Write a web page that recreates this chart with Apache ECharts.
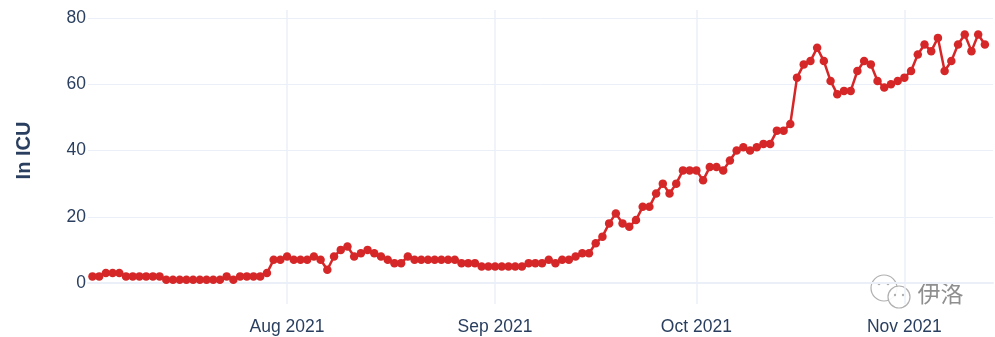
<!DOCTYPE html>
<html>
<head>
<meta charset="utf-8">
<script src="https://cdn.jsdelivr.net/npm/echarts@6/dist/echarts.min.js"></script>
<style>
html,body{margin:0;padding:0;background:#fff;}
#chart{width:995px;height:337px;}
</style>
</head>
<body>
<div id="chart"></div>
<script>
// ---- data ----
var startDate = [2021, 7, 3]; // first day of the daily series (year, month, day)
var icuValues = [
  // Jul 3 - Jul 31
  2,2,3,3,3,2,2,2,2,2,2,1,1,1,1,1,1,1,1,1,2,1,2,2,2,2,3,7,7,
  // Aug
  8,7,7,7,8,7,4,8,10,11,8,9,10,9,8,7,6,6,8,7,7,7,7,7,7,7,6,6,6,5,5,
  // Sep
  5,5,5,5,5,6,6,6,7,6,7,7,8,9,9,12,14,18,21,18,17,19,23,23,27,30,27,30,34,34,
  // Oct
  34,31,35,35,34,37,40,41,40,41,42,42,46,46,48,62,66,67,71,67,61,57,58,58,64,67,66,61,59,60,61,
  // Nov
  62,64,69,72,70,74,64,67,72,75,70,75,72
];
var yTicks = [0, 20, 40, 60, 80];
var monthNames = ['Jan','Feb','Mar','Apr','May','Jun','Jul','Aug','Sep','Oct','Nov','Dec'];
var yAxisTitle = 'In ICU';
var watermarkText = '伊洛';

// ---- build ----
var seriesData = icuValues.map(function (v, i) {
  var d = new Date(startDate[0], startDate[1] - 1, startDate[2] + i);
  return [d.getTime(), v];
});
var xMin = new Date(2021, 6, 2, 8, 0).getTime();
var xMax = new Date(2021, 10, 14, 5, 0).getTime();

var txt = '#2a3f5f';
var gridCol = '#EBF0F8';
var font = "'Liberation Sans', Arial, sans-serif";

var chart = echarts.init(document.getElementById('chart'), null, {renderer: 'canvas'});
chart.setOption({
  backgroundColor: '#fff',
  animation: false,
  grid: [
    {left: 88, right: 2, top: 10, bottom: 33},
    {left: 88, right: 2, top: 18, bottom: 54}
  ],
  xAxis: [
    {
      type: 'time', gridIndex: 0, min: xMin, max: xMax,
      minInterval: 28 * 86400000, maxInterval: 31 * 86400000,
      axisLine: {show: false}, axisTick: {show: false},
      splitLine: {show: true, showMinLine: false, showMaxLine: false, lineStyle: {color: gridCol, width: 1.5}},
      axisLabel: {
        color: txt, fontFamily: font, fontSize: 17.5, margin: 14,
        hideOverlap: false, showMinLabel: false, showMaxLabel: false,
        formatter: function (val) {
          var d = new Date(val);
          if (d.getDate() === 1) return monthNames[d.getMonth()] + ' ' + d.getFullYear();
          return '';
        }
      }
    },
    {
      type: 'time', gridIndex: 1, min: xMin, max: xMax,
      axisLine: {show: true, onZero: false, lineStyle: {color: gridCol, width: 2}},
      axisTick: {show: false}, axisLabel: {show: false}, splitLine: {show: false}
    }
  ],
  yAxis: [
    {
      type: 'value', gridIndex: 0, min: -4.2, max: 82.4, show: false,
      splitLine: {show: false}
    },
    {
      type: 'value', gridIndex: 1, min: yTicks[0], max: yTicks[yTicks.length - 1],
      interval: yTicks[1] - yTicks[0],
      axisLine: {show: false}, axisTick: {show: false},
      splitLine: {show: true, lineStyle: {color: gridCol, width: 1}},
      axisLabel: {color: txt, fontFamily: font, fontSize: 17.5, margin: 2},
      name: yAxisTitle, nameLocation: 'middle', nameGap: 54, nameRotate: 90,
      nameTextStyle: {color: txt, fontFamily: font, fontSize: 20, fontWeight: 'bold'}
    }
  ],
  series: [{
    type: 'line', xAxisIndex: 1, yAxisIndex: 1,
    data: seriesData,
    symbol: 'circle', symbolSize: 8.5, showSymbol: true,
    clip: false,
    lineStyle: {color: '#d62728', width: 2.5},
    itemStyle: {color: '#d62728', borderWidth: 0}
  }],
  graphic: [
    {type: 'circle', shape: {cx: 884, cy: 288, r: 13}, style: {fill: 'rgba(255,255,255,0.8)', stroke: '#b0b0b0', lineWidth: 1.2}},
    {type: 'circle', shape: {cx: 899, cy: 297, r: 11}, style: {fill: 'rgba(255,255,255,0.9)', stroke: '#b0b0b0', lineWidth: 1.2}},
    {type: 'circle', shape: {cx: 879, cy: 284, r: 1.3}, style: {fill: '#b0b0b0'}},
    {type: 'circle', shape: {cx: 888, cy: 284, r: 1.3}, style: {fill: '#b0b0b0'}},
    {type: 'circle', shape: {cx: 895, cy: 295, r: 1.2}, style: {fill: '#b0b0b0'}},
    {type: 'circle', shape: {cx: 903, cy: 295, r: 1.2}, style: {fill: '#b0b0b0'}},
    {type: 'text', left: 917, top: 281, style: {text: watermarkText, fill: '#8f8f8f', font: "23px 'Noto Sans CJK SC', sans-serif", stroke: '#fff', lineWidth: 1}}
  ]
});
</script>
</body>
</html>
